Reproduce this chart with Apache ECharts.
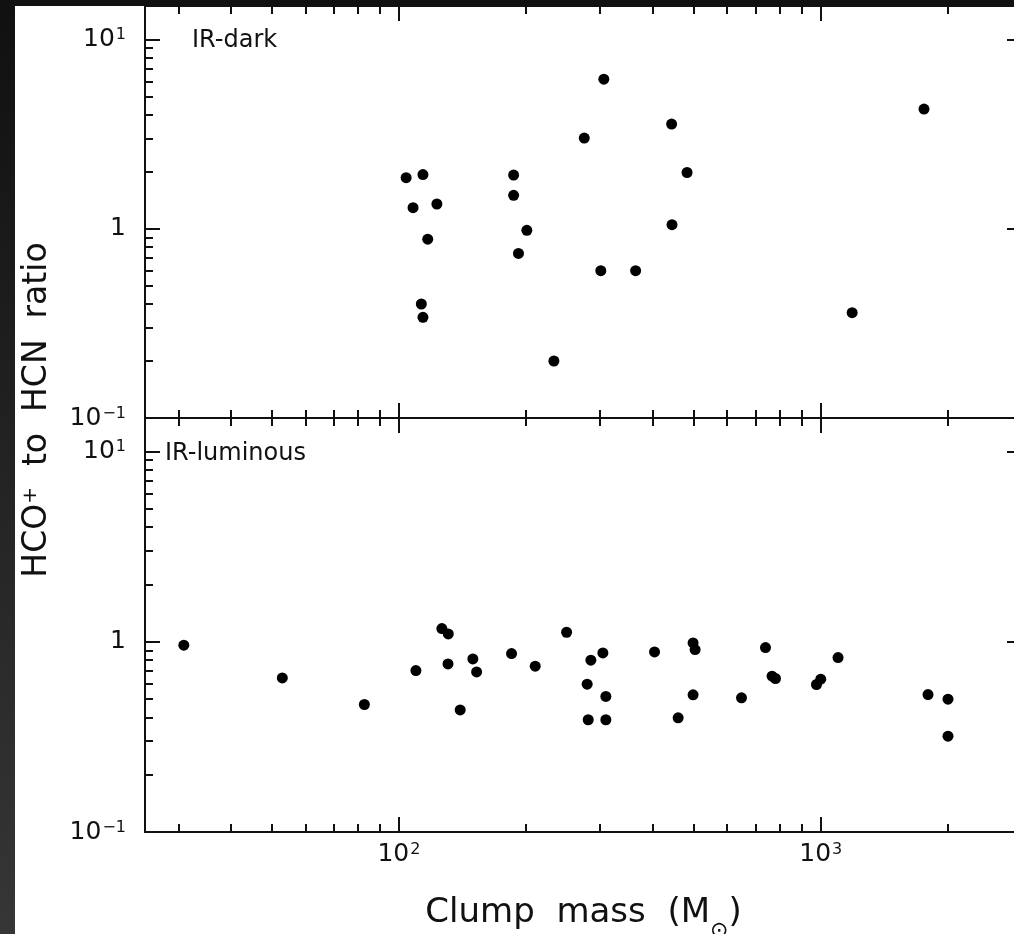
<!DOCTYPE html>
<html>
<head>
<meta charset="utf-8">
<script src="https://cdn.jsdelivr.net/npm/echarts@6/dist/echarts.min.js"></script>
<style>
html,body{margin:0;padding:0;background:#fff;}
#chart{width:1014px;height:934px;}
</style>
</head>
<body>
<div id="chart"></div>
<script>
// ---- data ----
const irDarkMass  = [104, 114, 108, 123, 117, 113, 114, 187, 187, 201, 192, 233, 275, 306, 301, 364, 443, 444, 482, 1187, 1757];
const irDarkRatio = [1.86, 1.93, 1.29, 1.35, 0.88, 0.40, 0.34, 1.92, 1.50, 0.98, 0.74, 0.20, 3.01, 6.16, 0.60, 0.60, 3.57, 1.05, 1.98, 0.36, 4.28];

const irLumMass  = [30.9, 52.9, 82.8, 109.7, 126.4, 130.9, 130.7, 139.7, 149.7, 152.8, 184.9, 210.4, 249.7, 285.1, 304.4, 279.4, 309.4, 281, 309.4, 403.6, 498.1, 503.6, 498.1, 459.1, 739.6, 648.8, 766.6, 781.0, 977, 1000, 1099, 1796, 2003, 2003];
const irLumRatio = [0.959, 0.645, 0.468, 0.706, 1.173, 1.099, 0.765, 0.438, 0.812, 0.694, 0.867, 0.744, 1.122, 0.800, 0.873, 0.598, 0.516, 0.389, 0.389, 0.884, 0.986, 0.910, 0.526, 0.398, 0.932, 0.507, 0.659, 0.641, 0.596, 0.636, 0.826, 0.528, 0.499, 0.319];

const xMajorTicks = [100, 1000];
const xMinorTicks = [30, 40, 50, 60, 70, 80, 90, 200, 300, 400, 500, 600, 700, 800, 900, 2000];
const yMajorTicks = [0.1, 1, 10];
const yMinorTicks = [0.2, 0.3, 0.4, 0.5, 0.6, 0.7, 0.8, 0.9, 2, 3, 4, 5, 6, 7, 8, 9];
const xTickLabels = ['{base|10}{sup|2}', '{base|10}{sup|3}'];
const yTickLabels = ['{base|10}{sup|−1}', '{base|1}', '{base|10}{sup|1}'];
const panelNames = ['IR-dark', 'IR-luminous'];
const xName = 'Clump  mass  (M{sub|⊙})';
const yName = 'HCO{sup|+}  to  HCN  ratio';

const XMIN = 25, XMAX = 3000, YMIN = 0.1, YMAX = 15;
const FONT = 'DejaVu Sans';
const INK = '#111';

const labelRich = {
  base: {fontFamily: FONT, fontSize: 25, color: INK},
  sup: {fontFamily: FONT, fontSize: 16, color: INK, verticalAlign: 'top', padding: [0, 0, 0, 1]}
};

function nearestIndex(arr, v) {
  let best = 0;
  for (let i = 1; i < arr.length; i++) {
    if (Math.abs(Math.log10(arr[i]) - Math.log10(v)) < Math.abs(Math.log10(arr[best]) - Math.log10(v))) best = i;
  }
  return best;
}

function xAx(grid, pos, ticks, len, opts) {
  return Object.assign({
    type: 'log', logBase: 10, gridIndex: grid, position: pos, min: XMIN, max: XMAX,
    axisLine: {show: false, onZero: false},
    axisTick: {show: true, inside: true, length: len, customValues: ticks, lineStyle: {color: INK, width: 2}},
    axisLabel: {show: false},
    splitLine: {show: false}, minorTick: {show: false}, minorSplitLine: {show: false}
  }, opts || {});
}
function yAx(grid, pos, ticks, len, opts) {
  return Object.assign({
    type: 'log', logBase: 10, gridIndex: grid, position: pos, min: YMIN, max: YMAX,
    axisLine: {show: false, onZero: false},
    axisTick: {show: true, inside: true, length: len, customValues: ticks, lineStyle: {color: INK, width: 2}},
    axisLabel: {show: false},
    splitLine: {show: false}, minorTick: {show: false}, minorSplitLine: {show: false}
  }, opts || {});
}
const lineOn = {axisLine: {show: true, onZero: false, lineStyle: {color: INK, width: 2}}};

const xAxes = [];
const yAxes = [];
for (let g = 0; g < 2; g++) {
  const bottomLabel = g === 1 ? {
    axisLabel: {show: true, customValues: xMajorTicks, margin: 10,
      formatter: v => xTickLabels[nearestIndex(xMajorTicks, v)],
      rich: labelRich},
    name: xName, nameLocation: 'middle', nameGap: 64,
    nameTextStyle: {fontFamily: FONT, fontSize: 34, color: INK,
      rich: {sub: {fontFamily: FONT, fontSize: 22, color: INK, verticalAlign: 'bottom', padding: [0, 0, -12, 0]}}}
  } : {};
  xAxes.push(xAx(g, 'bottom', xMajorTicks, 15, Object.assign({}, lineOn, bottomLabel)));
  xAxes.push(xAx(g, 'bottom', xMinorTicks, 8));
  xAxes.push(xAx(g, 'top', xMajorTicks, 15, lineOn));
  xAxes.push(xAx(g, 'top', xMinorTicks, 8));

  yAxes.push(yAx(g, 'left', yMajorTicks, 15, Object.assign({}, lineOn, {
    axisLabel: {show: true, customValues: yMajorTicks, margin: 19,
      formatter: v => yTickLabels[nearestIndex(yMajorTicks, v)],
      rich: labelRich}
  })));
  yAxes.push(yAx(g, 'left', yMinorTicks, 8));
  yAxes.push(yAx(g, 'right', yMajorTicks, 15, lineOn));
  yAxes.push(yAx(g, 'right', yMinorTicks, 8));
}

const darkData = irDarkMass.map((m, i) => [m, irDarkRatio[i]]);
const lumData = irLumMass.map((m, i) => [m, irLumRatio[i]]);

const chart = echarts.init(document.getElementById('chart'), null, {renderer: 'canvas'});
chart.setOption({
  backgroundColor: '#fff',
  animation: false,
  grid: [
    {left: 145, top: 6, width: 877, height: 412, containLabel: false, outerBoundsMode: 'none'},
    {left: 145, top: 418, width: 877, height: 414, containLabel: false, outerBoundsMode: 'none'}
  ],
  xAxis: xAxes,
  yAxis: yAxes,
  series: [
    {type: 'scatter', name: panelNames[0], xAxisIndex: 0, yAxisIndex: 0, data: darkData,
      symbol: 'circle', symbolSize: 11, itemStyle: {color: '#000', opacity: 1}},
    {type: 'scatter', name: panelNames[1], xAxisIndex: 4, yAxisIndex: 4, data: lumData,
      symbol: 'circle', symbolSize: 11, itemStyle: {color: '#000', opacity: 1}}
  ],
  graphic: [
    {type: 'text', left: 192, top: 29, z: 50,
      style: {text: panelNames[0], fontFamily: FONT, fontSize: 24, fill: INK}},
    {type: 'text', left: 165, top: 442, z: 50,
      style: {text: panelNames[1], fontFamily: FONT, fontSize: 24, fill: INK}},
    {type: 'text', x: 21, y: 410, rotation: Math.PI / 2, z: 50,
      style: {text: yName, fontFamily: FONT, fontSize: 33, fill: INK, align: 'center', verticalAlign: 'top',
        rich: {sup: {fontFamily: FONT, fontSize: 20, fill: INK, verticalAlign: 'top'}}}},
    {type: 'rect', z: 100, shape: {x: 0, y: 0, width: 15, height: 934},
      style: {fill: new echarts.graphic.LinearGradient(0, 0, 0, 1, [
        {offset: 0, color: '#101010'}, {offset: 1, color: '#363636'}])}},
    {type: 'rect', z: 100, shape: {x: 0, y: 0, width: 1014, height: 6}, style: {fill: '#111'}}
  ]
});
</script>
</body>
</html>
